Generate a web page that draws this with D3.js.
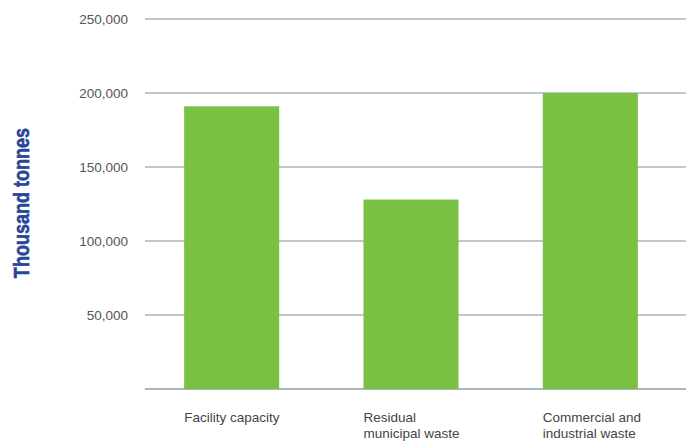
<!DOCTYPE html>
<html>
<head>
<meta charset="utf-8">
<script src="https://cdn.jsdelivr.net/npm/d3@7"></script>
<style>
  body { margin: 0; background: #fff; }
</style>
</head>
<body>
<div id="chart"></div>
<script>
// Data
const categories = ["Facility capacity", "Residual municipal waste", "Commercial and industrial waste"];
const categoryLines = [["Facility capacity"], ["Residual", "municipal waste"], ["Commercial and", "industrial waste"]];
const values = [191000, 128000, 200000];
const yTicks = [50000, 100000, 150000, 200000, 250000];

const W = 694, H = 441;

const svg = d3.select("#chart")
    .append("svg")
        .attr("width", W)
        .attr("height", H);

// scales
const x = d3.scaleBand()
    .domain(categories)
    .range([142, 680])
    .paddingInner(0.47)
    .paddingOuter(0.235);

const y = d3.scaleLinear()
    .domain([0, 250000])
    .range([389, 19]);

// gridlines (incl. baseline)
svg.append("g")
    .selectAll("line")
    .data([0].concat(yTicks))
    .join("line")
        .attr("x1", 145)
        .attr("x2", 686)
        .attr("y1", d => y(d))
        .attr("y2", d => y(d))
        .attr("stroke", "#a9b9b9")
        .attr("stroke-width", d => d === 0 ? 1.8 : 1.3);

// y axis labels
const yAxis = svg.append("g")
    .attr("transform", "translate(128,0)")
    .call(d3.axisLeft(y).tickValues(yTicks).tickSize(0).tickPadding(0).tickFormat(d3.format(",")));
yAxis.select(".domain").remove();
yAxis.selectAll("text")
    .style("font-family", "'Liberation Sans', Arial, sans-serif")
    .attr("font-size", "13.5px")
    .attr("fill", "#555")
    .attr("dy", "0.35em");

// bars
svg.selectAll(".bar")
    .data(values)
    .join("rect")
        .attr("class", "bar")
        .attr("x", (d, i) => x(categories[i]))
        .attr("y", d => y(d))
        .attr("width", x.bandwidth())
        .attr("height", d => y(0) - y(d))
        .attr("fill", "#7ac143");

// category labels, left aligned with bar
const lbl = svg.append("g")
    .selectAll("text")
    .data(categoryLines)
    .join("text")
        .attr("x", (d, i) => x(categories[i]))
        .attr("y", 422)
        .style("font-family", "'Liberation Sans', Arial, sans-serif")
        .attr("font-size", "13.5px")
        .attr("fill", "#444");
lbl.selectAll("tspan")
    .data(d => d)
    .join("tspan")
        .attr("x", function () { return this.parentNode.getAttribute("x"); })
        .attr("dy", (d, i) => i === 0 ? 0 : 16)
        .text(d => d);

// y title (condensed bold, squeezed with a scale since no narrow font)
svg.append("text")
    .attr("transform", "translate(29,203) rotate(-90) scale(0.82,1)")
    .attr("text-anchor", "middle")
    .style("font-family", "'Liberation Sans', Arial, sans-serif")
    .style("font-weight", "bold")
    .attr("font-size", "22px")
    .attr("fill", "#27469a")
    .attr("stroke", "#27469a")
    .attr("stroke-width", 0.6)
    .text("Thousand tonnes");
</script>
</body>
</html>
